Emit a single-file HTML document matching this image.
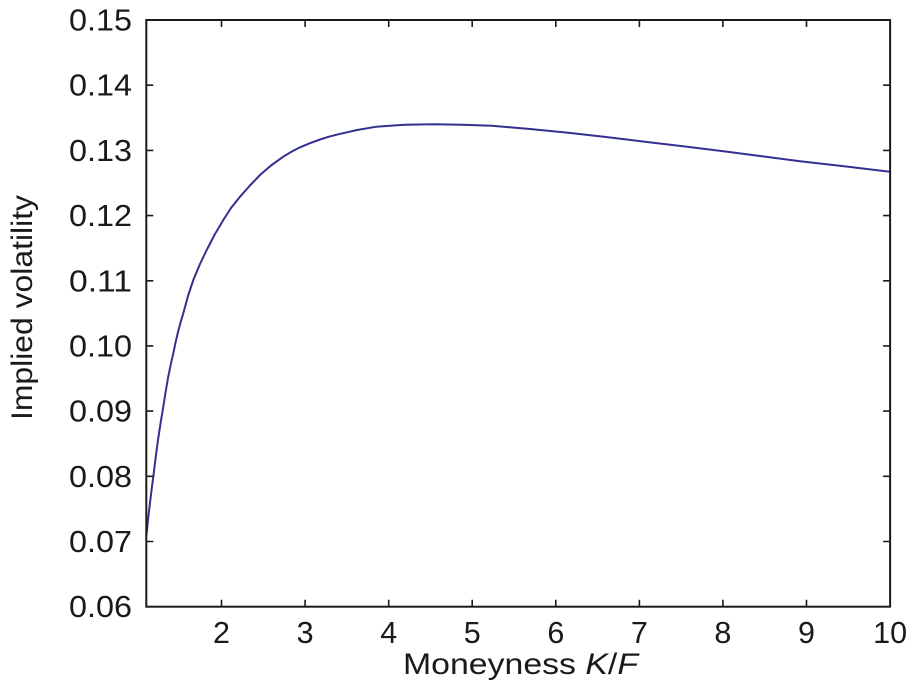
<!DOCTYPE html>
<html>
<head>
<meta charset="utf-8">
<style>
html,body{margin:0;padding:0;background:#fff;}
svg{display:block;}
text{font-family:"Liberation Sans",Arial,sans-serif;fill:#1a1a1a;}
</style>
</head>
<body>
<svg width="909" height="686" viewBox="0 0 909 686" xmlns="http://www.w3.org/2000/svg">
<rect width="909" height="686" fill="#fff"/>
<!-- curve -->
<polyline fill="none" stroke="#33308f" stroke-width="2" stroke-linejoin="round" points="146.5,535 148.2,518 150,503 151.6,489.5 153.3,476.7 155.6,458 158,440 160.6,423 163.3,406.7 165.6,392 168,378 170.6,365.2 173.3,353.3 175.6,342.3 178,332 180.6,322.3 183.3,313.3 188,296 193.3,280 200,264 206.7,250 215,234 223.3,220 231,208 240,196.7 250,185.5 260,175 271,165.5 283.3,156.7 291,152 300,147.3 310,143.2 320,139.5 329,136.7 338.3,134.3 357,130 376.6,126.7 405,124.8 434,124.3 462,124.7 491.6,125.7 530,129 568.2,132.7 606,137 644.8,141.7 683,146.3 721.5,151 760,156 798,161 844,166.3 890,171.7"/>
<!-- axes box -->
<rect x="146.3" y="20" width="743.8" height="586.7" fill="none" stroke="#1a1a1a" stroke-width="2"/>
<!-- ticks -->
<g stroke="#1a1a1a" stroke-width="1.6">
<path d="M146.3 85.2h7M146.3 150.4h7M146.3 215.6h7M146.3 280.8h7M146.3 345.9h7M146.3 411.1h7M146.3 476.3h7M146.3 541.5h7"/>
<path d="M890.1 85.2h-7M890.1 150.4h-7M890.1 215.6h-7M890.1 280.8h-7M890.1 345.9h-7M890.1 411.1h-7M890.1 476.3h-7M890.1 541.5h-7"/>
<path d="M221.5 606.7v-7M305.1 606.7v-7M388.7 606.7v-7M472.2 606.7v-7M555.8 606.7v-7M639.4 606.7v-7M722.9 606.7v-7M806.5 606.7v-7"/>
<path d="M221.5 20v7M305.1 20v7M388.7 20v7M472.2 20v7M555.8 20v7M639.4 20v7M722.9 20v7M806.5 20v7"/>
</g>
<!-- y tick labels -->
<g font-size="30.5">
<text x="69" y="30.5" textLength="63" lengthAdjust="spacingAndGlyphs">0.15</text>
<text x="69" y="95.7" textLength="63" lengthAdjust="spacingAndGlyphs">0.14</text>
<text x="69" y="160.9" textLength="63" lengthAdjust="spacingAndGlyphs">0.13</text>
<text x="69" y="226.1" textLength="63" lengthAdjust="spacingAndGlyphs">0.12</text>
<text x="69" y="291.3" textLength="63" lengthAdjust="spacingAndGlyphs">0.11</text>
<text x="69" y="356.4" textLength="63" lengthAdjust="spacingAndGlyphs">0.10</text>
<text x="69" y="421.6" textLength="63" lengthAdjust="spacingAndGlyphs">0.09</text>
<text x="69" y="486.8" textLength="63" lengthAdjust="spacingAndGlyphs">0.08</text>
<text x="69" y="552" textLength="63" lengthAdjust="spacingAndGlyphs">0.07</text>
<text x="69" y="617.2" textLength="63" lengthAdjust="spacingAndGlyphs">0.06</text>
</g>
<!-- x tick labels -->
<g font-size="30.5" text-anchor="middle">
<text x="221.5" y="643">2</text>
<text x="305.1" y="643">3</text>
<text x="388.7" y="643">4</text>
<text x="472.2" y="643">5</text>
<text x="555.8" y="643">6</text>
<text x="639.4" y="643">7</text>
<text x="722.9" y="643">8</text>
<text x="806.5" y="643">9</text>
<text x="890.1" y="643">10</text>
</g>
<!-- axis labels -->
<text x="403" y="674" font-size="30" textLength="235" lengthAdjust="spacingAndGlyphs">Moneyness <tspan font-style="italic">K</tspan>/<tspan font-style="italic">F</tspan></text>
<text transform="translate(32,307.5) rotate(-90)" font-size="30" text-anchor="middle" textLength="225" lengthAdjust="spacingAndGlyphs">Implied volatility</text>
</svg>
</body>
</html>
